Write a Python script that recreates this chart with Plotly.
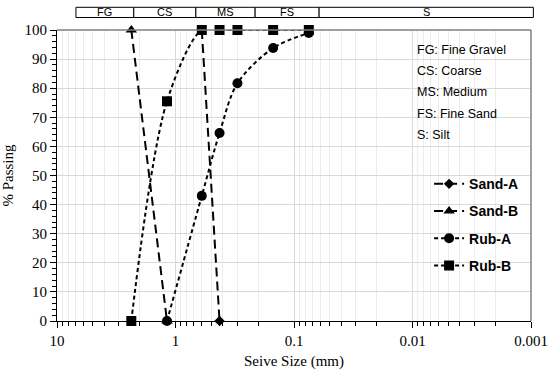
import numpy as np
import plotly.graph_objects as go

# ---------------- data ----------------
sand_a_size = [0.6, 0.425]
sand_a_pass = [100, 0]

sand_b_size = [2.36, 1.18]
sand_b_pass = [100, 0]

rub_a_size = [1.18, 0.6, 0.425, 0.3, 0.15, 0.075]
rub_a_pass = [0, 43, 64.6, 81.7, 93.8, 99]

rub_b_size = [2.36, 1.18, 0.6, 0.425, 0.3, 0.15, 0.075]
rub_b_pass = [0, 75.5, 100, 100, 100, 100, 100]

x_tick_vals = [10, 1, 0.1, 0.01, 0.001]
x_tick_text = ["10", "1", "0.1", "0.01", "0.001"]

band_labels = ["FG", "CS", "MS", "FS", "S"]
note_lines = ["FG: Fine Gravel", "CS: Coarse", "MS: Medium", "FS: Fine Sand", "S: Silt"]

# ---------------- figure ----------------
fig = go.Figure()

def add(name, xs, ys, symbol, msize, dash, shape):
    fig.add_trace(go.Scatter(
        x=xs, y=ys, name=name, legendgroup=name, mode="lines+markers",
        line=dict(color="black", width=2, dash=dash, shape=shape, smoothing=0.9),
        marker=dict(symbol=symbol, size=msize, color="black"),
        cliponaxis=False,
    ))

add("Sand-A", sand_a_size, sand_a_pass, "diamond", 8, "9px,5px", "linear")
add("Sand-B", sand_b_size, sand_b_pass, "triangle-up", 10, "9px,5px", "linear")
add("Rub-A", rub_a_size, rub_a_pass, "circle", 10, "4px,3px", "spline")
add("Rub-B", rub_b_size, rub_b_pass, "square", 10, "4px,3px", "spline")

minor_x = [m * 10.0 ** k for k in range(-3, 1) for m in range(2, 10)]

serif = "Liberation Serif"
fig.update_layout(
    width=550, height=370,
    margin=dict(l=57, r=19, t=30, b=49, autoexpand=False),
    paper_bgcolor="white", plot_bgcolor="white",
    showlegend=True,
    legend=dict(
        x=0.785, y=0.525, xanchor="left", yanchor="top",
        font=dict(family="Liberation Sans", size=14, color="black", weight="bold"),
        bgcolor="rgba(0,0,0,0)", tracegroupgap=6, itemwidth=30,
    ),
    xaxis=dict(
        type="log", range=[1, -3], automargin=False,
        tickmode="array", tickvals=x_tick_vals, ticktext=x_tick_text,
        ticks="outside", ticklen=6, tickcolor="black",
        showline=True, linecolor="black", linewidth=1,
        showgrid=True, gridcolor="#d9d9d9",
        zeroline=False, ticklabeloverflow="allow",
        tickfont=dict(family=serif, size=15, color="black"),
        title=dict(text="Seive Size (mm)", font=dict(family=serif, size=15, color="black"), standoff=9),
        minor=dict(tickmode="array", tickvals=minor_x, ticks="outside", ticklen=4,
                   tickcolor="black", showgrid=True, gridcolor="#ececec"),
    ),
    yaxis=dict(
        range=[0, 100], dtick=10, automargin=False,
        ticks="outside", ticklen=6, tickcolor="black",
        showline=True, linecolor="black", linewidth=1,
        showgrid=True, gridcolor="#d9d9d9",
        zeroline=False,
        tickfont=dict(family=serif, size=15, color="black"),
        title=dict(text="% Passing", font=dict(family=serif, size=15, color="black"), standoff=12),
        minor=dict(dtick=2, ticks="outside", ticklen=4, tickcolor="black", showgrid=False),
    ),
)

# plot frame (top & right, gray)
fig.add_shape(type="line", xref="paper", yref="paper", x0=0, x1=1, y0=1, y1=1,
              line=dict(color="#7f7f7f", width=1.5))
fig.add_shape(type="line", xref="paper", yref="paper", x0=1, x1=1, y0=0, y1=1,
              line=dict(color="#7f7f7f", width=1.5))

# top classification band
band_edges = [0.040, 0.162, 0.293, 0.418, 0.553, 1.005]
y0b, y1b = 1.043, 1.078
for i, lab in enumerate(band_labels):
    fig.add_shape(type="rect", xref="paper", yref="paper", layer="below",
                  x0=band_edges[i], x1=band_edges[i + 1], y0=y0b, y1=y1b,
                  line=dict(color="black", width=1), fillcolor="white")
    fig.add_annotation(xref="paper", yref="paper",
                       x=(band_edges[i] + band_edges[i + 1]) / 2, y=(y0b + y1b) / 2,
                       xanchor="center", yanchor="middle",
                       text=lab, showarrow=False,
                       font=dict(family="Liberation Sans", size=11, color="black"))

# notes
note_y = [0.931, 0.859, 0.787, 0.711, 0.639]
for t, yy in zip(note_lines, note_y):
    fig.add_annotation(xref="paper", yref="paper", x=0.755, y=yy,
                       xanchor="left", yanchor="middle",
                       text=t, showarrow=False,
                       font=dict(family="Liberation Sans", size=12.5, color="black"))

fig.write_html("out.html",
               config={"displayModeBar": False},
               post_script="document.body.style.margin='0px';document.body.style.overflow='hidden';")
